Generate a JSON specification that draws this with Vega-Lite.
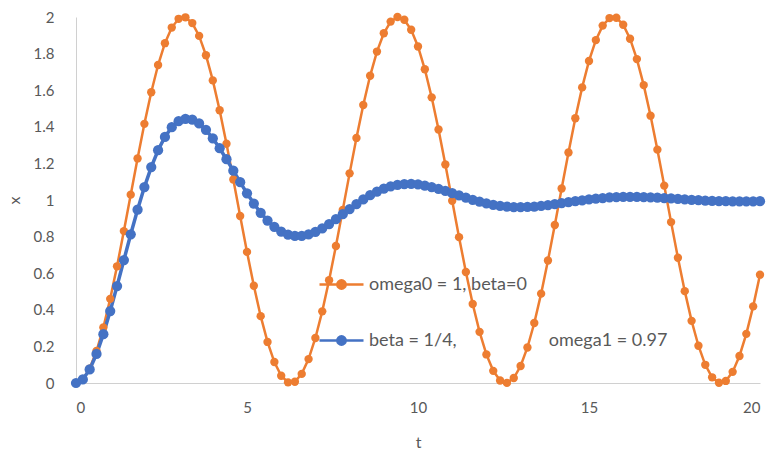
{
  "$schema": "https://vega.github.io/schema/vega-lite/v6.json",
  "width": 684,
  "height": 366,
  "autosize": {"type": "none"},
  "padding": {"left": 76, "top": 17, "right": 11, "bottom": 70},
  "background": "white",
  "config": {
    "view": {"stroke": null},
    "font": "Lato",
    "axis": {"grid": false, "ticks": false, "labelColor": "#595959", "titleColor": "#595959", "labelFont": "Lato", "titleFont": "Lato", "labelFontSize": 15, "titleFontSize": 16, "titleFontWeight": "normal", "domainColor": "#d0d0d0", "domainWidth": 1}
  },
  "datasets": {
    "pts": [
      {"series":"omega0","t":0,"x":0},{"series":"omega0","t":0.2,"x":0.0199},{"series":"omega0","t":0.4,"x":0.0789},{"series":"omega0","t":0.6,"x":0.1747},{"series":"omega0","t":0.8,"x":0.3033},{"series":"omega0","t":1,"x":0.4597},{"series":"omega0","t":1.2,"x":0.6376},{"series":"omega0","t":1.4,"x":0.83},{"series":"omega0","t":1.6,"x":1.0292},{"series":"omega0","t":1.8,"x":1.2272},
      {"series":"omega0","t":2,"x":1.4161},{"series":"omega0","t":2.2,"x":1.5885},{"series":"omega0","t":2.4,"x":1.7374},{"series":"omega0","t":2.6,"x":1.8569},{"series":"omega0","t":2.8,"x":1.9422},{"series":"omega0","t":3,"x":1.99},{"series":"omega0","t":3.2,"x":1.9983},{"series":"omega0","t":3.4,"x":1.9668},{"series":"omega0","t":3.6,"x":1.8968},{"series":"omega0","t":3.8,"x":1.791},
      {"series":"omega0","t":4,"x":1.6536},{"series":"omega0","t":4.2,"x":1.4903},{"series":"omega0","t":4.4,"x":1.3073},{"series":"omega0","t":4.6,"x":1.1122},{"series":"omega0","t":4.8,"x":0.9125},{"series":"omega0","t":5,"x":0.7163},{"series":"omega0","t":5.2,"x":0.5315},{"series":"omega0","t":5.4,"x":0.3653},{"series":"omega0","t":5.6,"x":0.2244},{"series":"omega0","t":5.8,"x":0.1145},
      {"series":"omega0","t":6,"x":0.0398},{"series":"omega0","t":6.2,"x":0.0035},{"series":"omega0","t":6.4,"x":0.0068},{"series":"omega0","t":6.6,"x":0.0498},{"series":"omega0","t":6.8,"x":0.1306},{"series":"omega0","t":7,"x":0.2461},{"series":"omega0","t":7.2,"x":0.3916},{"series":"omega0","t":7.4,"x":0.5615},{"series":"omega0","t":7.6,"x":0.7487},{"series":"omega0","t":7.8,"x":0.946},
      {"series":"omega0","t":8,"x":1.1455},{"series":"omega0","t":8.2,"x":1.3392},{"series":"omega0","t":8.4,"x":1.5193},{"series":"omega0","t":8.6,"x":1.6787},{"series":"omega0","t":8.8,"x":1.8111},{"series":"omega0","t":9,"x":1.9111},{"series":"omega0","t":9.2,"x":1.9748},{"series":"omega0","t":9.4,"x":1.9997},{"series":"omega0","t":9.6,"x":1.9847},{"series":"omega0","t":9.8,"x":1.9304},
      {"series":"omega0","t":10,"x":1.8391},{"series":"omega0","t":10.2,"x":1.7143},{"series":"omega0","t":10.4,"x":1.561},{"series":"omega0","t":10.6,"x":1.3853},{"series":"omega0","t":10.8,"x":1.1943},{"series":"omega0","t":11,"x":0.9956},{"series":"omega0","t":11.2,"x":0.797},{"series":"omega0","t":11.4,"x":0.6065},{"series":"omega0","t":11.6,"x":0.4317},{"series":"omega0","t":11.8,"x":0.2796},
      {"series":"omega0","t":12,"x":0.1561},{"series":"omega0","t":12.2,"x":0.0664},{"series":"omega0","t":12.4,"x":0.0138},{"series":"omega0","t":12.6,"x":0.0006},{"series":"omega0","t":12.8,"x":0.0272},{"series":"omega0","t":13,"x":0.0926},{"series":"omega0","t":13.2,"x":0.1941},{"series":"omega0","t":13.4,"x":0.3278},{"series":"omega0","t":13.6,"x":0.4883},{"series":"omega0","t":13.8,"x":0.6692},
      {"series":"omega0","t":14,"x":0.8633},{"series":"omega0","t":14.2,"x":1.0628},{"series":"omega0","t":14.4,"x":1.2598},{"series":"omega0","t":14.6,"x":1.4465},{"series":"omega0","t":14.8,"x":1.6154},{"series":"omega0","t":15,"x":1.7597},{"series":"omega0","t":15.2,"x":1.8737},{"series":"omega0","t":15.4,"x":1.953},{"series":"omega0","t":15.6,"x":1.9942},{"series":"omega0","t":15.8,"x":1.9958},
      {"series":"omega0","t":16,"x":1.9577},{"series":"omega0","t":16.2,"x":1.8814},{"series":"omega0","t":16.4,"x":1.7699},{"series":"omega0","t":16.6,"x":1.6278},{"series":"omega0","t":16.8,"x":1.4607},{"series":"omega0","t":17,"x":1.2752},{"series":"omega0","t":17.2,"x":1.0787},{"series":"omega0","t":17.4,"x":0.8791},{"series":"omega0","t":17.6,"x":0.6843},{"series":"omega0","t":17.8,"x":0.502},
      {"series":"omega0","t":18,"x":0.3397},{"series":"omega0","t":18.2,"x":0.2036},{"series":"omega0","t":18.4,"x":0.0994},{"series":"omega0","t":18.6,"x":0.031},{"series":"omega0","t":18.8,"x":0.0012},{"series":"omega0","t":19,"x":0.0113},{"series":"omega0","t":19.2,"x":0.0608},{"series":"omega0","t":19.4,"x":0.1477},{"series":"omega0","t":19.6,"x":0.2686},{"series":"omega0","t":19.8,"x":0.4187},
      {"series":"omega0","t":20,"x":0.5919},
      {"series":"beta","t":0,"x":0},{"series":"beta","t":0.2,"x":0.0193},{"series":"beta","t":0.4,"x":0.0739},{"series":"beta","t":0.6,"x":0.1585},{"series":"beta","t":0.8,"x":0.267},{"series":"beta","t":1,"x":0.3929},{"series":"beta","t":1.2,"x":0.5299},{"series":"beta","t":1.4,"x":0.6717},{"series":"beta","t":1.6,"x":0.8125},{"series":"beta","t":1.8,"x":0.947},
      {"series":"beta","t":2,"x":1.0706},{"series":"beta","t":2.2,"x":1.1799},{"series":"beta","t":2.4,"x":1.2719},{"series":"beta","t":2.6,"x":1.3448},{"series":"beta","t":2.8,"x":1.3978},{"series":"beta","t":3,"x":1.4306},{"series":"beta","t":3.2,"x":1.4439},{"series":"beta","t":3.4,"x":1.4391},{"series":"beta","t":3.6,"x":1.4182},{"series":"beta","t":3.8,"x":1.3833},
      {"series":"beta","t":4,"x":1.3372},{"series":"beta","t":4.2,"x":1.2828},{"series":"beta","t":4.4,"x":1.2227},{"series":"beta","t":4.6,"x":1.16},{"series":"beta","t":4.8,"x":1.0971},{"series":"beta","t":5,"x":1.0366},{"series":"beta","t":5.2,"x":0.9804},{"series":"beta","t":5.4,"x":0.9303},{"series":"beta","t":5.6,"x":0.8876},{"series":"beta","t":5.8,"x":0.8532},
      {"series":"beta","t":6,"x":0.8277},{"series":"beta","t":6.2,"x":0.8112},{"series":"beta","t":6.4,"x":0.8034},{"series":"beta","t":6.6,"x":0.8037},{"series":"beta","t":6.8,"x":0.8115},{"series":"beta","t":7,"x":0.8258},{"series":"beta","t":7.2,"x":0.8452},{"series":"beta","t":7.4,"x":0.8687},{"series":"beta","t":7.6,"x":0.8949},{"series":"beta","t":7.8,"x":0.9227},
      {"series":"beta","t":8,"x":0.9507},{"series":"beta","t":8.2,"x":0.9779},{"series":"beta","t":8.4,"x":1.0034},{"series":"beta","t":8.6,"x":1.0263},{"series":"beta","t":8.8,"x":1.046},{"series":"beta","t":9,"x":1.0621},{"series":"beta","t":9.2,"x":1.0744},{"series":"beta","t":9.4,"x":1.0826},{"series":"beta","t":9.6,"x":1.0869},{"series":"beta","t":9.8,"x":1.0875},
      {"series":"beta","t":10,"x":1.0848},{"series":"beta","t":10.2,"x":1.0791},{"series":"beta","t":10.4,"x":1.0709},{"series":"beta","t":10.6,"x":1.0608},{"series":"beta","t":10.8,"x":1.0494},{"series":"beta","t":11,"x":1.0371},{"series":"beta","t":11.2,"x":1.0247},{"series":"beta","t":11.4,"x":1.0125},{"series":"beta","t":11.6,"x":1.0009},{"series":"beta","t":11.8,"x":0.9905},
      {"series":"beta","t":12,"x":0.9814},{"series":"beta","t":12.2,"x":0.9738},{"series":"beta","t":12.4,"x":0.968},{"series":"beta","t":12.6,"x":0.964},{"series":"beta","t":12.8,"x":0.9617},{"series":"beta","t":13,"x":0.961},{"series":"beta","t":13.2,"x":0.9619},{"series":"beta","t":13.4,"x":0.9642},{"series":"beta","t":13.6,"x":0.9676},{"series":"beta","t":13.8,"x":0.9719},
      {"series":"beta","t":14,"x":0.9769},{"series":"beta","t":14.2,"x":0.9823},{"series":"beta","t":14.4,"x":0.9878},{"series":"beta","t":14.6,"x":0.9933},{"series":"beta","t":14.8,"x":0.9985},{"series":"beta","t":15,"x":1.0032},{"series":"beta","t":15.2,"x":1.0074},{"series":"beta","t":15.4,"x":1.0109},{"series":"beta","t":15.6,"x":1.0137},{"series":"beta","t":15.8,"x":1.0157},
      {"series":"beta","t":16,"x":1.0169},{"series":"beta","t":16.2,"x":1.0173},{"series":"beta","t":16.4,"x":1.0171},{"series":"beta","t":16.6,"x":1.0162},{"series":"beta","t":16.8,"x":1.0148},{"series":"beta","t":17,"x":1.0129},{"series":"beta","t":17.2,"x":1.0108},{"series":"beta","t":17.4,"x":1.0084},{"series":"beta","t":17.6,"x":1.006},{"series":"beta","t":17.8,"x":1.0035},
      {"series":"beta","t":18,"x":1.0012},{"series":"beta","t":18.2,"x":0.999},{"series":"beta","t":18.4,"x":0.9971},{"series":"beta","t":18.6,"x":0.9955},{"series":"beta","t":18.8,"x":0.9942},{"series":"beta","t":19,"x":0.9932},{"series":"beta","t":19.2,"x":0.9926},{"series":"beta","t":19.4,"x":0.9923},{"series":"beta","t":19.6,"x":0.9924},{"series":"beta","t":19.8,"x":0.9927},
      {"series":"beta","t":20,"x":0.9933}
    ]
  },
  "data": {"name": "pts"},
  "encoding": {
    "x": {
      "field": "t", "type": "quantitative",
      "scale": {"domain": [0, 20], "nice": false, "zero": false},
      "axis": {"values": [0, 5, 10, 15, 20], "title": "t", "labelPadding": 17, "titleX": 342, "titleY": 59, "titleBaseline": "middle", "titleAlign": "center"}
    },
    "y": {
      "field": "x", "type": "quantitative",
      "scale": {"domain": [0, 2], "nice": false},
      "axis": {"values": [0, 0.2, 0.4, 0.6, 0.8, 1, 1.2, 1.4, 1.6, 1.8, 2], "format": "~g", "title": "x", "labelPadding": 22, "titleX": -62, "titleY": 183, "titleBaseline": "middle", "titleAlign": "center", "titleAngle": -90}
    },
    "color": {
      "field": "series", "type": "nominal",
      "scale": {"domain": ["omega0", "beta"], "range": ["#ED7D31", "#4472C4"]},
      "legend": {
        "orient": "none", "legendX": 242, "legendY": 244, "title": null, "padding": 0,
        "symbolType": "M-1,0L1,0M-0.19,0A0.19,0.19 0 1,0 0.19,0A0.19,0.19 0 1,0 -0.19,0",
        "symbolSize": 1936, "symbolStrokeWidth": 2.5,
        "labelFont": "Lato", "labelFontSize": 18, "labelColor": "#595959", "labelOffset": 4, "labelLimit": 600,
        "rowPadding": 23,
        "labelExpr": "datum.value == 'omega0' ? 'omega0 = 1, beta=0' : 'beta = 1/4,\u00a0\u00a0\u00a0\u00a0\u00a0\u00a0\u00a0\u00a0\u00a0\u00a0\u00a0\u00a0\u00a0\u00a0\u00a0\u00a0\u00a0\u00a0\u00a0\u00a0omega1 = 0.97'",
        "encode": {"symbols": {"update": {"fill": {"scale": "color", "field": "value"}, "stroke": {"scale": "color", "field": "value"}, "opacity": {"value": 1}}}}
      }
    }
  },
  "layer": [
    {
      "mark": {"type": "line"},
      "encoding": {"strokeWidth": {"condition": {"test": "datum.series == 'beta'", "value": 3.5}, "value": 2.5}}
    },
    {
      "mark": {"type": "point", "filled": true, "opacity": 1},
      "encoding": {"size": {"condition": {"test": "datum.series == 'beta'", "value": 105}, "value": 70}}
    }
  ]
}
